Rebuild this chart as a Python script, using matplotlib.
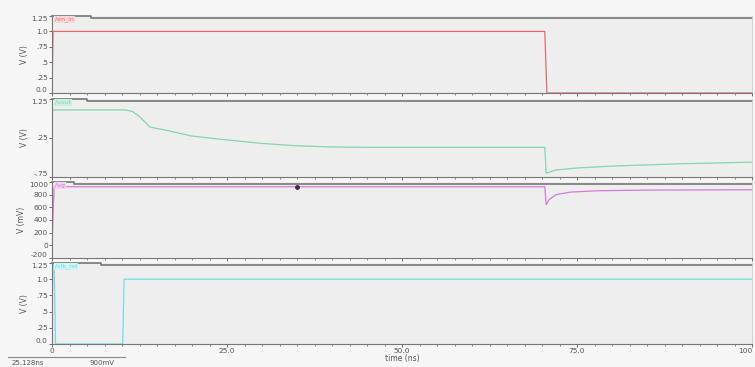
import matplotlib
matplotlib.use("Agg")
import matplotlib.pyplot as plt
from matplotlib.ticker import MultipleLocator

# transient waveforms, time in ns
en_t = [0, 0.15, 70.4, 70.7, 100]
en_v = [0, 1.0, 1.0, 0.0, 0.0]

out_t = [0, 10.5, 11.5, 12.5, 13.5, 14.0, 16, 20, 25, 30, 35, 40, 45, 70.4, 70.6, 72, 75, 80, 90, 100]
out_v = [0.97, 0.97, 0.93, 0.80, 0.62, 0.53, 0.46, 0.30, 0.20, 0.11, 0.05, 0.02, 0.01, 0.01,
         -0.65, -0.57, -0.52, -0.47, -0.41, -0.37]

vg_t = [0, 0.3, 70.4, 70.6, 71, 72, 74, 78, 85, 100]
vg_v = [0, 925, 925, 640, 720, 800, 840, 862, 872, 878]

clk_t = [0, 0.1, 0.3, 0.5, 10.1, 10.3, 100]
clk_v = [0, 1.25, 1.25, 0, 0, 1.0, 1.0]

cursor_t, cursor_v = 35.0, 925

names = ["/en_in", "/vout", "/vg", "/clk_rst"]
colors = ["#e46a6a", "#86d4b0", "#d77ad9", "#6fdde3"]
tabs = ["#f6d8d8", "#cdeee0", "#f0d2f2", "#cff4f6"]
ylabels = ["V (V)", "V (V)", "V (mV)", "V (V)"]

BG = "#f6f6f6"
PANEL = "#eeeeee"
EDGE = "#777777"
TXT = "#555555"

fig = plt.figure(figsize=(7.55, 3.67), dpi=100, facecolor=BG)
H = 367.0
rows = [(16, 93), (99, 177), (182, 258), (263, 344)]
left, width = 52 / 755, 700 / 755

series = [(en_t, en_v), (out_t, out_v), (vg_t, vg_v), (clk_t, clk_v)]
ylims = [(0, 1.25), (-0.75, 1.25), (-200, 1000), (0, 1.25)]
yticks = [
    ([0, 0.25, 0.5, 0.75, 1.0, 1.25], ["0.0", ".25", ".5", ".75", "1.0", "1.25"]),
    ([-0.75, 0.25, 1.25], ["-.75", ".25", "1.25"]),
    ([-200, 0, 200, 400, 600, 800, 1000], ["-200", "0", "200", "400", "600", "800", "1000"]),
    ([0, 0.25, 0.5, 0.75, 1.0, 1.25], ["0.0", ".25", ".5", ".75", "1.0", "1.25"]),
]
tab_w = [0.055, 0.05, 0.032, 0.07]

axes = []
for i, (top, bot) in enumerate(rows):
    ax = fig.add_axes([left, 1 - bot / H, width, (bot - top) / H])
    ax.set_facecolor(PANEL)
    t, v = series[i]
    ax.plot(t, v, color=colors[i], lw=0.9, solid_joinstyle="miter")
    ax.set_xlim(0, 100)
    ax.set_ylim(*ylims[i])
    ax.set_yticks(yticks[i][0])
    labels = ax.set_yticklabels(yticks[i][1])
    # keep the end labels inside their own panel so neighbours don't collide
    labels[0].set_va("bottom")
    labels[-1].set_va("top")
    ax.set_ylabel(ylabels[i], fontsize=5.5, color=TXT, labelpad=2)
    ax.xaxis.set_major_locator(MultipleLocator(25))
    ax.xaxis.set_minor_locator(MultipleLocator(2.5))
    ax.tick_params(axis="both", labelsize=5.3, colors=TXT, length=2, width=0.6, pad=1)
    ax.tick_params(axis="x", which="minor", length=1.5, colors=TXT, width=0.5)
    for s in ["left", "bottom"]:
        ax.spines[s].set_color(EDGE)
        ax.spines[s].set_linewidth(0.8)
    ax.spines["right"].set_color("#cccccc")
    ax.spines["right"].set_linewidth(0.6)
    ax.spines["top"].set_visible(False)
    # header line with a raised name tab at the left
    w = tab_w[i]
    ax.plot([0, w, w, 1], [1.0, 1.0, 0.975, 0.975], transform=ax.transAxes,
            color=EDGE, lw=1.2, clip_on=False)
    ax.text(0.004, 0.99, names[i], transform=ax.transAxes, fontsize=4.5,
            color=colors[i], va="top", ha="left",
            bbox=dict(boxstyle="square,pad=0.15", fc=tabs[i], ec="none"))
    if i < 3:
        ax.tick_params(axis="x", which="both", labelbottom=False)
    axes.append(ax)

axes[2].plot([cursor_t], [cursor_v], "o", color="#333344", ms=2.5, zorder=5)

axb = axes[3]
axb.set_xticks([0, 25, 50, 75, 100])
xl = axb.set_xticklabels(["0", "25.0", "50.0", "75.0", "100"])
xl[-1].set_ha("right")
axb.set_xlabel("time (ns)", fontsize=5.5, color=TXT, labelpad=0)

# cursor readout in the corner
fig.add_artist(plt.Line2D([8 / 755, 125 / 755], [1 - 357 / H, 1 - 357 / H],
                          color="#888888", lw=0.8))
fig.text(12 / 755, 1 - 363 / H, "25.128ns", fontsize=5, color=TXT, va="center")
fig.text(90 / 755, 1 - 363 / H, "900mV", fontsize=5, color=TXT, va="center")

fig.savefig("out.png", dpi=100, facecolor=BG)
